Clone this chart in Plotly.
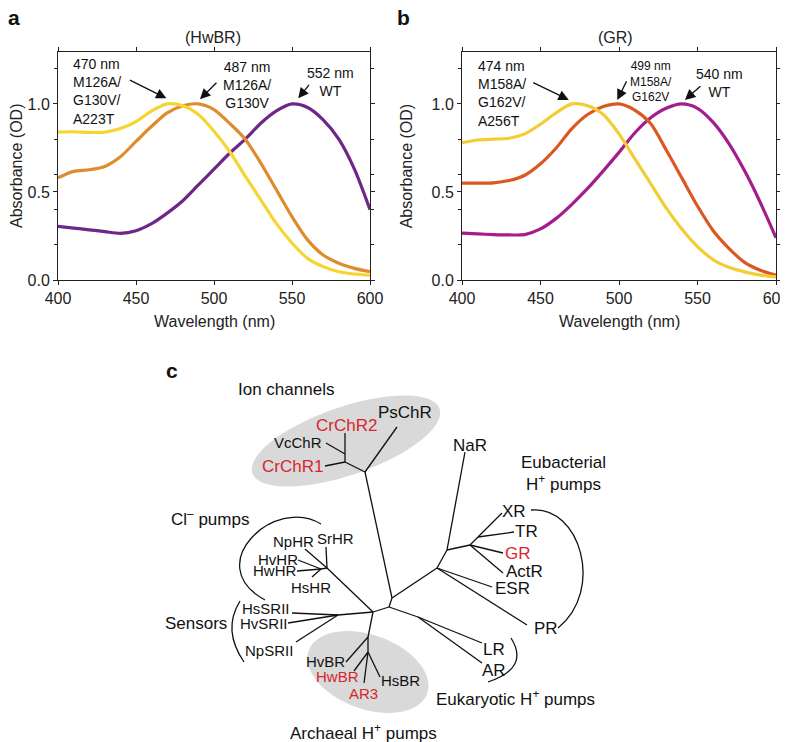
import numpy as np
import plotly.graph_objects as go

# Page body adds an 8px margin; the figure is sized to fill the remaining viewport
OFF = 8
W, H = 788, 742
FW, FH = W - OFF, H - OFF
FONT = "Liberation Sans, Arial, Helvetica, sans-serif"

# ---------------- absorption spectra ----------------
wavelength = [400, 410, 420, 430, 440, 450, 460, 470, 480, 490, 500,
              510, 520, 530, 540, 550, 560, 570, 580, 590, 600]

hwbr_wt = [0.305, 0.295, 0.285, 0.275, 0.265, 0.28, 0.32, 0.38, 0.45, 0.54, 0.63,
           0.72, 0.80, 0.89, 0.96, 1.00, 0.98, 0.91, 0.80, 0.63, 0.40]
hwbr_double = [0.58, 0.617, 0.626, 0.645, 0.70, 0.787, 0.873, 0.949, 0.99, 1.0, 0.968,
               0.89, 0.80, 0.664, 0.512, 0.36, 0.228, 0.142, 0.095, 0.066, 0.047]
hwbr_triple = [0.84, 0.842, 0.838, 0.84, 0.86, 0.90, 0.96, 1.0, 0.99, 0.94, 0.845,
               0.73, 0.59, 0.455, 0.32, 0.21, 0.123, 0.076, 0.047, 0.034, 0.027]

gr_wt = [0.266, 0.262, 0.258, 0.256, 0.258, 0.29, 0.35, 0.43, 0.52, 0.62, 0.725,
         0.835, 0.92, 0.975, 1.0, 0.975, 0.895, 0.775, 0.62, 0.44, 0.24]
gr_double = [0.55, 0.55, 0.552, 0.565, 0.595, 0.66, 0.75, 0.86, 0.94, 0.985, 1.0,
             0.965, 0.89, 0.74, 0.58, 0.42, 0.28, 0.18, 0.10, 0.055, 0.028]
gr_triple = [0.78, 0.795, 0.80, 0.805, 0.83, 0.885, 0.95, 1.0, 0.99, 0.94, 0.83,
             0.69, 0.55, 0.41, 0.29, 0.19, 0.115, 0.072, 0.046, 0.028, 0.018]

x_tickvals = [400, 450, 500, 550, 600]
y_tickvals = [0.0, 0.5, 1.0]
y_ticktext = ["0.0", "0.5", "1.0"]
y_minor = [0.2, 0.4, 0.6, 0.8, 1.2]

# peak annotations: (text, peak wavelength)
a_peaks = [("470 nm<br>M126A/<br>G130V/<br>A223T", 470), ("487 nm<br>M126A/<br>G130V", 487), ("552 nm<br>WT", 552)]
b_peaks = [("474 nm<br>M158A/<br>G162V/<br>A256T", 474), ("499 nm<br>M158A/<br>G162V", 499), ("540 nm<br>WT", 540)]

# ---------------- phylogenetic tree (positions) ----------------
node_names = ["A", "B", "C", "D", "G", "H", "E", "N1", "N2", "N3", "U", "K", "K2", "S", "Q1", "Q2",
              "PsChR", "CrChR1", "CrChR2", "VcChR", "NaR", "XR", "TR", "GR", "ActR", "ESR", "PR",
              "LR", "AR", "SrHR", "NpHR", "HvHR", "HwHR", "HsHR", "HsSRII", "HvSRII", "NpSRII",
              "HvBR", "HwBR", "AR3", "HsBR"]
node_x = [365, 345, 345, 392, 389, 373, 437, 447, 470, 478, 418, 327, 321, 338, 368, 368,
          397, 325, 345, 326, 465, 502, 514, 503, 503, 492, 527,
          482, 482, 326, 305, 298, 297, 312, 292, 288, 296,
          346, 354, 364, 380]
node_y = [472, 462, 454, 598, 607, 612, 568, 550, 545, 537, 617, 568, 569, 615, 637, 652,
          427, 466, 433, 443, 452, 513, 532, 553, 573, 587, 625,
          643, 663, 547, 549, 560, 571, 577, 613, 623, 642,
          662, 671, 683, 677]
edges = [("A", "B"), ("B", "C"), ("B", "CrChR1"), ("C", "VcChR"), ("C", "CrChR2"), ("A", "PsChR"),
         ("A", "D"), ("D", "E"), ("D", "G"), ("G", "H"), ("G", "U"), ("U", "LR"), ("U", "AR"),
         ("E", "N1"), ("N1", "NaR"), ("N1", "N2"), ("N2", "N3"), ("N3", "XR"), ("N3", "TR"),
         ("N2", "GR"), ("N2", "ActR"), ("E", "ESR"), ("E", "PR"),
         ("H", "K"), ("K", "SrHR"), ("K", "NpHR"), ("K", "K2"), ("K2", "HvHR"), ("K2", "HwHR"), ("K2", "HsHR"),
         ("H", "S"), ("S", "HsSRII"), ("S", "HvSRII"), ("S", "NpSRII"),
         ("H", "Q1"), ("Q1", "HvBR"), ("Q1", "Q2"), ("Q2", "HwBR"), ("Q2", "AR3"), ("Q2", "HsBR")]

leaf_labels = ["PsChR", "CrChR2", "VcChR", "CrChR1", "NaR", "XR", "TR", "GR", "ActR", "ESR", "PR",
               "LR", "AR", "SrHR", "NpHR", "HvHR", "HwHR", "HsHR", "HsSRII", "HvSRII", "NpSRII",
               "HvBR", "HwBR", "AR3", "HsBR"]
leaf_label_x = [405, 346.7, 297.5, 292, 470, 514, 526, 517.5, 524.3, 512.5, 545.8,
                494, 494, 335, 293.3, 277.5, 274, 311, 266, 264, 269,
                325.5, 337.5, 363.8, 400.3]
leaf_label_y = [412.7, 425, 442.3, 466, 445.7, 511.7, 531.7, 553.3, 571.7, 588.3, 628.3,
                649.3, 670, 538.3, 541.7, 559.3, 570, 587.3, 608.3, 623.3, 650.7,
                661, 676, 693.3, 680.7]
highlighted = ["CrChR1", "CrChR2", "GR", "HwBR", "AR3"]
large_labels = ["PsChR", "CrChR2", "CrChR1", "NaR", "XR", "TR", "GR", "ActR", "ESR", "PR", "LR", "AR"]

group_labels = ["Ion channels", "Cl<sup>\u2013</sup> pumps", "Sensors", "Eubacterial", "H<sup>+</sup> pumps",
                "Eukaryotic H<sup>+</sup> pumps", "Archaeal H<sup>+</sup> pumps"]
group_x = [286, 210, 195.8, 563.3, 563.3, 515.8, 363.3]
group_y = [389.3, 518.3, 623.3, 462.7, 483.3, 698.3, 731.7]

# ---------------- layout helpers (screen pixels -> paper fractions) ----------------
def px(x):
    return (x - OFF) / FW

def py(y):
    return 1 - (y - OFF) / FH

A_X = [58, 370]
B_X = [462, 776]
P_Y = [52, 280]
YMAX = 1.295
TREE_TOP = 370

PURPLE = "#6E2687"
ORANGE_A = "#DE8C2D"
YELLOW_A = "#F7D531"
MAGENTA = "#A31E8C"
ORANGE_B = "#DC5823"
YELLOW_B = "#F2CD33"

fig = go.Figure()

def add_spec(y, color, xa, ya):
    fig.add_trace(go.Scatter(x=wavelength, y=y, mode="lines", xaxis=xa, yaxis=ya,
                             line=dict(color=color, width=3.2, shape="spline", smoothing=0.8),
                             showlegend=False, hoverinfo="skip"))

add_spec(hwbr_wt, PURPLE, "x", "y")
add_spec(hwbr_double, ORANGE_A, "x", "y")
add_spec(hwbr_triple, YELLOW_A, "x", "y")
add_spec(gr_wt, MAGENTA, "x2", "y2")
add_spec(gr_double, ORANGE_B, "x2", "y2")
add_spec(gr_triple, YELLOW_B, "x2", "y2")

# tree branches
pos = {n: (x, y) for n, x, y in zip(node_names, node_x, node_y)}
tx, ty = [], []
for p, c in edges:
    tx += [pos[p][0], pos[c][0], None]
    ty += [pos[p][1], pos[c][1], None]
fig.add_trace(go.Scatter(x=tx, y=ty, mode="lines", xaxis="x3", yaxis="y3",
                         line=dict(color="#111111", width=1.3), showlegend=False, hoverinfo="skip"))

axis_common = dict(showline=True, linecolor="#222", linewidth=1, mirror="ticks", ticks="outside",
                   ticklen=4, tickcolor="#222", showgrid=False, zeroline=False,
                   ticklabeloverflow="allow",
                   tickfont=dict(family=FONT, size=16, color="#222"))

def xaxis_def(dom):
    return dict(axis_common, domain=[px(dom[0]), px(dom[1])], range=[400, 600],
                tickvals=x_tickvals, ticktext=[str(v) for v in x_tickvals])

def yaxis_def(anchor):
    return dict(axis_common, domain=[py(P_Y[1]), py(P_Y[0])], range=[0, YMAX], anchor=anchor,
                tickvals=y_tickvals, ticktext=y_ticktext,
                minor=dict(tickvals=y_minor, ticklen=3, ticks="outside", tickcolor="#222"))

fig.update_layout(
    width=FW, height=FH, margin=dict(l=0, r=0, t=0, b=0, pad=0, autoexpand=False),
    paper_bgcolor="white", plot_bgcolor="rgba(0,0,0,0)",
    font=dict(family=FONT, size=16, color="#222"),
    xaxis=dict(xaxis_def(A_X), anchor="y"),
    yaxis=yaxis_def("x"),
    xaxis2=dict(xaxis_def(B_X), anchor="y2"),
    yaxis2=yaxis_def("x2"),
    xaxis3=dict(domain=[0, 1], range=[OFF, W], visible=False, anchor="y3"),
    yaxis3=dict(domain=[0, py(TREE_TOP)], range=[H, TREE_TOP], visible=False, anchor="x3"),
)

ann = []
# panel letters
for t, x, y in [("a", 14, 17), ("b", 403, 17), ("c", 172, 370)]:
    ann.append(dict(text=f"<b>{t}</b>", x=px(x), y=py(y), xref="paper", yref="paper",
                    showarrow=False, font=dict(size=21, family=FONT, color="#111"),
                    xanchor="center", yanchor="middle"))
# titles
for t, x in [("(HwBR)", 213.3), ("(GR)", 615.7)]:
    ann.append(dict(text=t, x=px(x), y=py(37.3), xref="paper", yref="paper", showarrow=False,
                    font=dict(size=16, family=FONT), xanchor="center", yanchor="middle"))
# axis titles
for x in [17, 407.3]:
    ann.append(dict(text="Absorbance (OD)", x=px(x), y=py(166), xref="paper", yref="paper",
                    showarrow=False, textangle=-90, font=dict(size=16, family=FONT),
                    xanchor="center", yanchor="middle"))
for x in [(A_X[0] + A_X[1]) / 2, (B_X[0] + B_X[1]) / 2]:
    ann.append(dict(text="Wavelength (nm)", x=px(x), y=py(321.7), xref="paper", yref="paper",
                    showarrow=False, font=dict(size=16, family=FONT),
                    xanchor="center", yanchor="middle"))

# peak labels (text) positioned in pixels
peak_text_pos_a = [(71, 54, "left", 14), (246.7, 57, "center", 14), (330.8, 63, "center", 14)]
peak_text_pos_b = [(475.7, 56, "left", 14), (650.7, 57, "center", 12), (719, 64, "center", 14)]
for (txt, _), (x, y, al, fs) in zip(a_peaks + b_peaks, peak_text_pos_a + peak_text_pos_b):
    ann.append(dict(text=txt, x=px(x), y=py(y), xref="paper", yref="paper", showarrow=False,
                    align=al, xanchor=al, yanchor="top", font=dict(size=fs, family=FONT, color="#111")))

# arrows pointing at peaks: (tip offset from peak in data units, ax, ay)
arrow_a = [(-0.5, 0.032, -38, -19), (4, 0.027, 18, -18), (2, 0.032, 12, -15)]
arrow_b = [(-6, 0.023, -37, -18), (-0.1, 0.023, 10, -20), (2, 0.023, 17, -15)]
for (txt, lam), (dx, dy, ax, ay) in zip(a_peaks, arrow_a):
    ann.append(dict(text="", x=lam + dx, y=1 + dy, xref="x", yref="y", ax=ax, ay=ay,
                    showarrow=True, arrowhead=2, arrowsize=1.6, arrowwidth=1.3, arrowcolor="#111",
                    standoff=0))
for (txt, lam), (dx, dy, ax, ay) in zip(b_peaks, arrow_b):
    ann.append(dict(text="", x=lam + dx, y=1 + dy, xref="x2", yref="y2", ax=ax, ay=ay,
                    showarrow=True, arrowhead=2, arrowsize=1.6, arrowwidth=1.3, arrowcolor="#111",
                    standoff=0))

# tree leaf labels
for name, x, y in zip(leaf_labels, leaf_label_x, leaf_label_y):
    col = "#D7262E" if name in highlighted else "#111"
    size = 17 if name in large_labels else 15
    ann.append(dict(text=name, x=x, y=y, xref="x3", yref="y3", showarrow=False,
                    font=dict(size=size, family=FONT, color=col), xanchor="center", yanchor="middle"))
for t, x, y in zip(group_labels, group_x, group_y):
    ann.append(dict(text=t, x=x, y=y, xref="x3", yref="y3", showarrow=False,
                    font=dict(size=17, family=FONT, color="#111"), xanchor="center", yanchor="middle"))

fig.update_layout(annotations=ann)

# ---------------- shapes: clade ellipses and brackets ----------------
def ellipse_path(cx, cy, a, b, theta_deg, n=72):
    t = np.linspace(0, 2 * np.pi, n)
    th = np.radians(theta_deg)
    xs = cx + a * np.cos(t) * np.cos(th) - b * np.sin(t) * np.sin(th)
    ys = cy + a * np.cos(t) * np.sin(th) + b * np.sin(t) * np.cos(th)
    return "M " + " L ".join(f"{x:.1f},{y:.1f}" for x, y in zip(xs, ys)) + " Z"

shapes = [
    dict(type="path", path=ellipse_path(346, 441, 99, 34, -19), xref="x3", yref="y3",
         fillcolor="#D9D9D9", line=dict(width=0), layer="below"),
    dict(type="path", path=ellipse_path(368, 672, 63, 37, 20), xref="x3", yref="y3",
         fillcolor="#D9D9D9", line=dict(width=0), layer="below"),
    dict(type="path", path="M 321,524 C 275,495 200,565 265,600", xref="x3", yref="y3",
         line=dict(color="#111", width=1.3)),
    dict(type="path", path="M 531,510 C 580,505 605,590 558,628", xref="x3", yref="y3",
         line=dict(color="#111", width=1.3)),
    dict(type="path", path="M 240,601 Q 222,630 244,662", xref="x3", yref="y3",
         line=dict(color="#111", width=1.3)),
    dict(type="path", path="M 511,638 Q 530,668 488,682", xref="x3", yref="y3",
         line=dict(color="#111", width=1.3)),
]
fig.update_layout(shapes=shapes)

fig.write_html("out.html")
